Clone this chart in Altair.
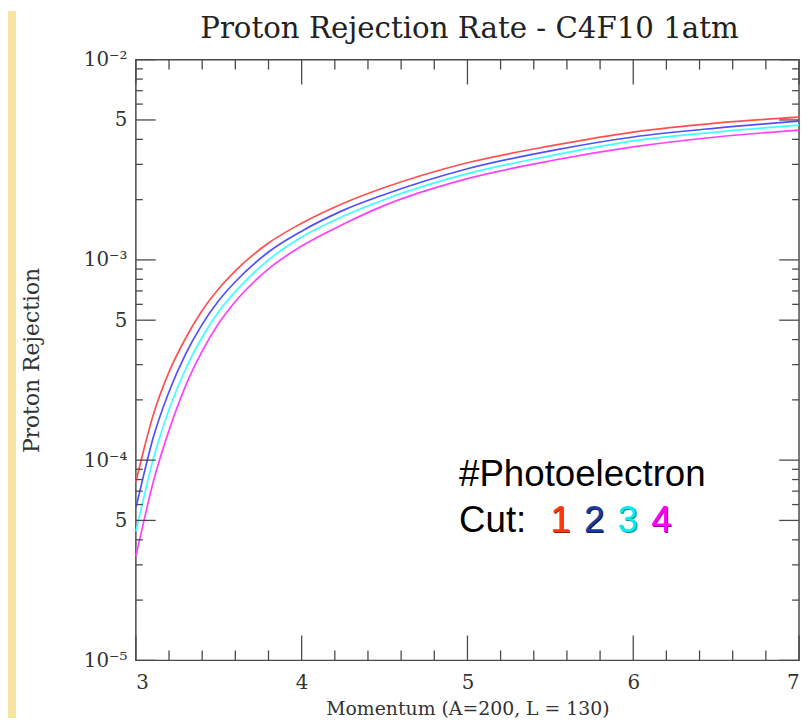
import altair as alt
import pandas as pd

# ---------------- data ----------------
momentum = [3.0, 3.05, 3.1, 3.2, 3.3, 3.4, 3.5, 3.6, 3.8, 4.0, 4.25, 4.5, 5.0, 5.5, 6.0, 6.5, 7.0]
cut_1 = [7.78e-5, 1.147e-4, 1.633e-4, 2.758e-4, 4.063e-4, 5.59e-4, 7.18e-4, 8.82e-4, 1.214e-3,
         1.525e-3, 1.915e-3, 2.298e-3, 3.056e-3, 3.709e-3, 4.351e-3, 4.823e-3, 5.162e-3]
cut_2 = [5.787e-5, 8.621e-5, 1.256e-4, 2.196e-4, 3.386e-4, 4.767e-4, 6.266e-4, 7.78e-4, 1.095e-3,
         1.392e-3, 1.768e-3, 2.122e-3, 2.853e-3, 3.504e-3, 4.111e-3, 4.554e-3, 4.933e-3]
cut_3 = [4.401e-5, 6.633e-5, 9.774e-5, 1.789e-4, 2.853e-4, 4.111e-4, 5.529e-4, 6.944e-4, 1.0e-3,
         1.300e-3, 1.651e-3, 2.004e-3, 2.696e-3, 3.310e-3, 3.928e-3, 4.351e-3, 4.713e-3]
cut_4 = [3.310e-5, 5.047e-5, 7.52e-5, 1.408e-4, 2.351e-4, 3.504e-4, 4.823e-4, 6.195e-4, 9.024e-4,
         1.173e-3, 1.507e-3, 1.872e-3, 2.546e-3, 3.126e-3, 3.667e-3, 4.111e-3, 4.451e-3]
cut_names = ["1", "2", "3", "4"]
line_colors = ["#ff5050", "#5050ff", "#40ffff", "#ff40ff"]

x_major = [3, 4, 5, 6, 7]
x_minor = [3.2, 3.4, 3.6, 3.8, 4.2, 4.4, 4.6, 4.8, 5.2, 5.4, 5.6, 5.8, 6.2, 6.4, 6.6, 6.8]
y_major = [1e-5, 5e-5, 1e-4, 5e-4, 1e-3, 5e-3, 1e-2]
y_minor = [2e-5, 3e-5, 4e-5, 6e-5, 7e-5, 8e-5, 9e-5,
           2e-4, 3e-4, 4e-4, 6e-4, 7e-4, 8e-4, 9e-4,
           2e-3, 3e-3, 4e-3, 6e-3, 7e-3, 8e-3, 9e-3]

title_text = "Proton Rejection Rate - C4F10 1atm"
x_title = "Momentum (A=200, L = 130)"
y_title = "Proton Rejection"
note_line1 = "#Photoelectron"
note_line2 = "Cut:"
digit_colors = ["#ff3a10", "#1a3aa0", "#00f0f0", "#ff00ff"]
digit_shadow = ["#902000", "#0a1a50", "#008a8a", "#900090"]

# ---------------- layout ----------------
W, H = 669, 606
SERIF = "DejaVu Serif"
SANS = "Liberation Sans"
FRAME = "#4a4a4a"

rows = []
for name, vals in zip(cut_names, [cut_1, cut_2, cut_3, cut_4]):
    for m, v in zip(momentum, vals):
        rows.append({"momentum": m, "rejection": v, "cut": name})
df = pd.DataFrame(rows)

xscale = alt.Scale(domain=[3, 7], nice=False, zero=False)
yscale = alt.Scale(type="log", domain=[1e-5, 1e-2], nice=False)

label_expr = (
    "datum.value > 0.009 ? '10⁻²' : datum.value > 0.004 ? '5' : "
    "datum.value > 0.0009 ? '10⁻³' : datum.value > 0.0004 ? '5' : "
    "datum.value > 0.00009 ? '10⁻⁴' : datum.value > 0.00004 ? '5' : '10⁻⁵'"
)
xaxis = alt.Axis(values=x_major, title=x_title, format="d")
yaxis = alt.Axis(values=y_major, labelExpr=label_expr, title=y_title)

one = pd.DataFrame({"k": [0]})

# beige strip at left edge
strip = alt.Chart(one).mark_rect(color="#f6e4a0").encode(
    x=alt.value(-129), x2=alt.value(-121), y=alt.value(-49), y2=alt.value(H + 70)
)

title = alt.Chart(one).mark_text(text=title_text, font=SERIF, fontSize=29.5, align="center",
                                 baseline="alphabetic", color="#222").encode(
    x=alt.value(W / 2 + 2), y=alt.value(-22))

lines = alt.Chart(df).mark_line(strokeWidth=1.7, interpolate="monotone").encode(
    x=alt.X("momentum:Q", scale=xscale, axis=xaxis),
    y=alt.Y("rejection:Q", scale=yscale, axis=yaxis),
    color=alt.Color("cut:N", scale=alt.Scale(domain=cut_names, range=line_colors), legend=None),
    detail="cut:N",
)

dx_major = pd.DataFrame({"v": x_major})
dx_minor = pd.DataFrame({"v": x_minor})
dy_major = pd.DataFrame({"v": y_major})
dy_minor = pd.DataFrame({"v": y_minor})

def xticks(d, length):
    base = alt.Chart(d).mark_rule(color=FRAME, strokeWidth=1.3)
    xe = alt.X("v:Q", scale=xscale, axis=xaxis)
    bottom = base.encode(x=xe, y=alt.value(H), y2=alt.value(H - length))
    top = base.encode(x=xe, y=alt.value(0), y2=alt.value(length))
    return [bottom, top]

def yticks(d, length):
    base = alt.Chart(d).mark_rule(color=FRAME, strokeWidth=1.3)
    ye = alt.Y("v:Q", scale=yscale, axis=yaxis)
    left = base.encode(y=ye, x=alt.value(0), x2=alt.value(length))
    right = base.encode(y=ye, x=alt.value(W), x2=alt.value(W - length))
    return [left, right]

tick_layers = xticks(dx_major, 25) + xticks(dx_minor, 10) + yticks(dy_major, 20) + yticks(dy_minor, 7)

FS = 37
note1 = alt.Chart(one).mark_text(text=note_line1, font=SANS, fontSize=FS, align="left",
                                 baseline="alphabetic", color="#000").encode(
    x=alt.value(326), y=alt.value(430))
note2 = alt.Chart(one).mark_text(text=note_line2, font=SANS, fontSize=FS, align="left",
                                 baseline="alphabetic", color="#000").encode(
    x=alt.value(326), y=alt.value(476))

digit_layers = []
digit_x = [418, 452, 486, 520]
for name, col, sh, px in zip(cut_names, digit_colors, digit_shadow, digit_x):
    digit_layers.append(alt.Chart(one).mark_text(text=name, font=SANS, fontSize=FS, align="left",
                                                 baseline="alphabetic", color=sh).encode(
        x=alt.value(px + 1), y=alt.value(477)))
    digit_layers.append(alt.Chart(one).mark_text(text=name, font=SANS, fontSize=FS, align="left",
                                                 baseline="alphabetic", color=col).encode(
        x=alt.value(px), y=alt.value(476)))

chart = alt.layer(strip, title, lines, *tick_layers, note1, note2, *digit_layers).properties(
    width=W,
    height=H,
    autosize=alt.AutoSizeParams(type="none"),
    padding={"left": 129, "top": 49, "right": 2, "bottom": 55},
).configure(background="white").configure_view(
    stroke=FRAME, strokeWidth=1.5
).configure_axis(
    domain=False, ticks=False, grid=False,
    labelFont=SERIF, labelFontSize=20, labelColor="#333",
    titleFont=SERIF, titleFontSize=19, titleColor="#333", titleFontWeight="normal",
).configure_axisX(
    labelPadding=12, titlePadding=8,
).configure_axisY(
    labelPadding=9, titlePadding=40, titleFontSize=22,
)

chart.save("out.html", embed_options={"renderer": "svg", "actions": False})
